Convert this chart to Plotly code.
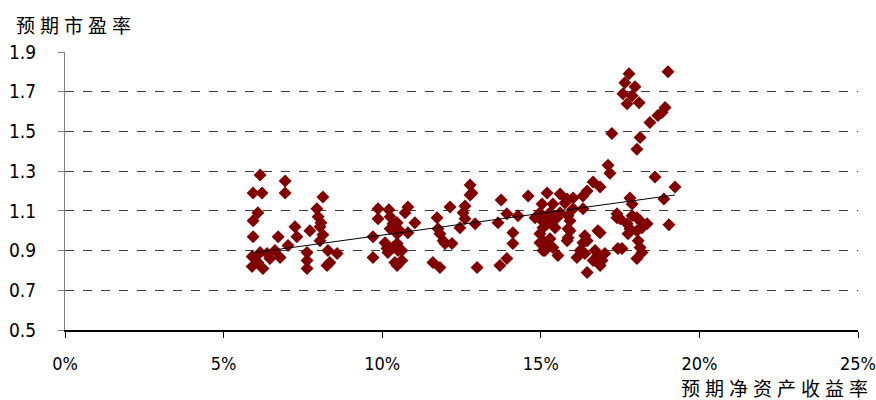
import plotly.graph_objects as go

# Expected ROE (%) and expected P/E (relative)
roe = [
    6.15, 5.93, 6.21, 6.94, 6.94, 8.13, 6.08, 5.93, 5.93, 7.94, 7.98, 8.07, 7.25, 7.31, 6.72, 7.72,
    8.04, 8.13, 8.04, 5.90, 6.15, 6.37, 5.90, 6.24, 6.08, 6.78, 7.03, 7.63, 7.63, 7.63, 8.29, 8.58,
    8.26, 8.35, 6.46, 6.62,
    9.71, 9.71, 9.87, 9.87, 10.21, 10.25, 10.34, 10.25, 10.47, 10.56, 10.47, 10.09, 10.15, 10.18,
    10.34, 10.47, 10.50, 10.62, 10.62, 10.47, 10.40, 10.81, 10.72, 11.03, 10.81, 11.73, 11.76, 11.82,
    11.92, 12.20, 11.60, 11.82, 12.14, 12.55, 12.61, 12.45, 12.77, 12.83, 12.77, 12.61, 12.93, 11.98,
    12.99,
    13.75, 13.93, 13.65, 14.28, 14.12, 14.12, 13.93, 13.71, 14.60, 14.82, 15.04, 15.04, 14.97, 14.97,
    14.97, 15.07, 15.20, 15.29, 15.38, 15.20, 15.29, 15.20, 15.07, 15.20, 15.13, 15.29, 15.38, 15.07,
    15.61, 15.61, 15.51, 15.76, 15.83, 15.86, 15.92, 15.86, 15.92, 15.86, 15.83, 15.45, 15.54,
    16.02, 16.02, 16.33, 16.33, 16.46, 16.65, 16.87, 17.12, 17.18, 17.24, 17.40, 16.80, 16.39, 16.46,
    16.33, 16.14, 16.24, 16.39, 16.71, 16.80, 17.02, 16.65, 16.87, 16.46, 17.43, 16.87, 16.93,
    17.78, 17.65, 17.97, 17.59, 17.88, 17.72, 18.10, 19.01, 18.92, 18.82, 18.69, 18.44, 18.13, 18.03,
    18.60, 19.23, 18.88, 17.81, 17.88, 17.40, 17.50, 17.88, 18.03, 18.13, 18.35, 17.72, 17.81, 17.75,
    18.03, 18.19, 19.04, 18.07, 18.13, 17.56, 18.19, 18.03,
]
pe = [
    1.28, 1.19, 1.19, 1.25, 1.19, 1.17, 1.09, 1.05, 0.97, 1.11, 1.07, 1.04, 1.02, 0.97, 0.97, 1.00,
    1.02, 0.98, 0.95, 0.87, 0.89, 0.885, 0.82, 0.81, 0.84, 0.865, 0.925, 0.89, 0.85, 0.81, 0.90, 0.885,
    0.825, 0.84, 0.86, 0.90,
    0.97, 0.865, 1.11, 1.06, 1.105, 1.07, 1.035, 1.01, 1.04, 1.00, 0.985, 0.94, 0.91, 0.89,
    0.915, 0.935, 0.90, 0.90, 0.85, 0.825, 0.84, 1.12, 1.09, 1.04, 0.99, 1.065, 1.01, 0.985,
    0.95, 0.935, 0.84, 0.815, 1.12, 1.09, 1.06, 1.015, 1.23, 1.19, 1.18, 1.125, 1.035, 0.935,
    0.815,
    1.155, 1.085, 1.04, 1.075, 0.99, 0.935, 0.86, 0.825, 1.175, 1.065, 1.05, 1.135, 1.09, 0.94,
    0.985, 0.95, 1.19, 1.09, 1.135, 1.075, 1.05, 1.035, 1.015, 0.935, 0.90, 0.96, 0.915, 0.90,
    1.185, 1.09, 1.065, 1.14, 1.16, 1.075, 1.05, 1.01, 1.00, 0.965, 0.95, 1.015, 0.875,
    1.165, 1.11, 1.175, 1.11, 1.20, 1.245, 1.22, 1.33, 1.29, 1.49, 1.065, 1.00, 0.975, 0.95,
    0.94, 0.865, 0.90, 0.885, 0.90, 0.875, 0.885, 0.85, 0.825, 0.79, 0.91, 0.99, 0.85,
    1.79, 1.745, 1.725, 1.69, 1.68, 1.64, 1.645, 1.80, 1.62, 1.595, 1.58, 1.545, 1.47, 1.41,
    1.27, 1.22, 1.16, 1.165, 1.135, 1.085, 1.06, 1.075, 1.065, 1.05, 1.035, 1.035, 1.01, 0.985,
    1.00, 1.015, 1.03, 0.95, 0.915, 0.91, 0.89, 0.86,
]

# Trend line end points
trend_roe = [5.9, 19.23]
trend_pe = [0.888, 1.18]

x_ticks = [0, 5, 10, 15, 20, 25]
y_ticks = [0.5, 0.7, 0.9, 1.1, 1.3, 1.5, 1.7, 1.9]

y_title = "预期市盈率"
x_title = "预期净资产收益率"

base_family = "DejaVu Sans Condensed, Liberation Sans Narrow, Arial"
x_tick_font = dict(family=base_family, size=18, color="#000000")
y_tick_font = dict(family=base_family, size=19, color="#000000")
cjk_font = dict(family="Noto Sans CJK SC", size=19, color="#000000")

fig = go.Figure()
fig.add_trace(go.Scatter(
    x=roe, y=pe, mode="markers",
    marker=dict(symbol="diamond", size=10, color="#800000", line=dict(width=0)),
    showlegend=False, hoverinfo="x+y",
))
fig.add_trace(go.Scatter(
    x=trend_roe, y=trend_pe, mode="lines",
    line=dict(color="#000000", width=1),
    showlegend=False, hoverinfo="skip",
))

W, H = 876, 400
L, R, T, B = 65, 18, 52, 70
PW, PH = W - L - R, H - T - B

fig.update_layout(
    width=W, height=H,
    margin=dict(l=L, r=R, t=T, b=B, autoexpand=False),
    paper_bgcolor="white", plot_bgcolor="white",
    font=y_tick_font,
    xaxis=dict(
        range=[0, 25], tickvals=x_ticks, ticktext=[f"{v}%" for v in x_ticks],
        showgrid=False, zeroline=False, automargin=False,
        showline=True, linecolor="#000000", linewidth=1.5,
        ticks="outside", ticklen=6, tickcolor="#000000", tickwidth=1,
        ticklabelstandoff=11, tickfont=x_tick_font, ticklabeloverflow="allow",
    ),
    yaxis=dict(
        range=[0.5, 1.9], tickvals=y_ticks, ticktext=[f"{v:.1f}" for v in y_ticks],
        showgrid=True, gridcolor="#3c3c3c", griddash="dash", gridwidth=1,
        zeroline=False, automargin=False,
        showline=True, linecolor="#808080", linewidth=1,
        ticks="outside", ticklen=6, tickcolor="#808080", tickwidth=1,
        ticklabelstandoff=18, tickfont=y_tick_font, ticklabeloverflow="allow",
    ),
    annotations=[
        dict(text=f"<span style='letter-spacing:5px'>{y_title}</span>",
             xref="paper", yref="paper", x=(14 - L) / PW, y=1 + (T - 25) / PH,
             xanchor="left", yanchor="middle", showarrow=False, font=cjk_font),
        dict(text=f"<span style='letter-spacing:5px'>{x_title}</span>",
             xref="paper", yref="paper", x=1 + (R - 1) / PW, y=-(387 - (H - B)) / PH,
             xanchor="right", yanchor="middle", showarrow=False, font=cjk_font),
    ],
)

fig.write_html(
    "out.html",
    config={"displayModeBar": False},
    post_script="document.body.style.margin='0px';document.body.style.overflow='hidden';",
)
